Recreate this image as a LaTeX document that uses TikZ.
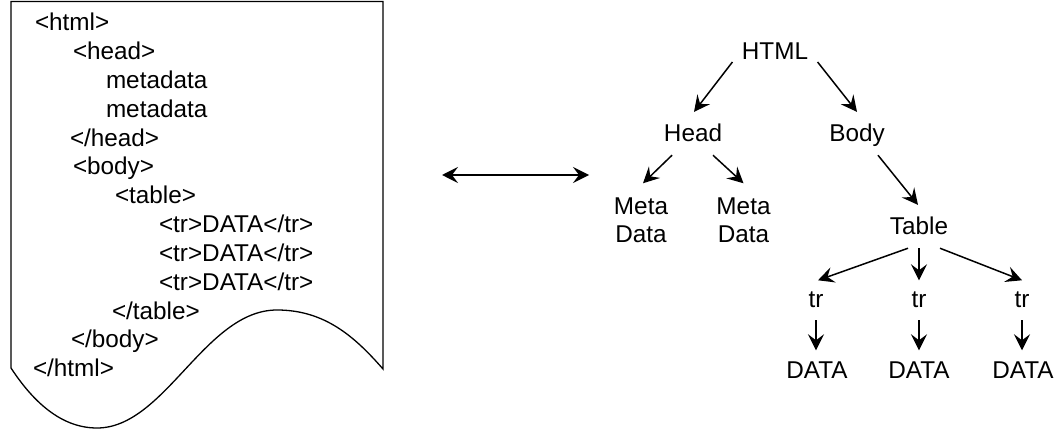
\documentclass[tikz,border=0pt]{standalone}
\usepackage{fontspec}
\setmainfont{Liberation Sans}
\usetikzlibrary{arrows.meta}
\tikzset{
  txt/.style={inner sep=0pt, outer sep=0pt, font=\fontsize{24.3}{28.8}\selectfont},
  code/.style={txt, anchor=base west},
  tnode/.style={txt, anchor=base},
  arr/.style={draw, line width=1.5pt, -{Stealth[length=16pt,width=16pt,inset=6pt]}},
  darr/.style={draw, line width=1.4pt, {Stealth[length=16pt,width=16pt,inset=6pt]}-{Stealth[length=16pt,width=16pt,inset=6pt]}},
  doc/.style={draw, line width=1.3pt}
}
\begin{document}
\begin{tikzpicture}[x=1pt,y=-1pt]
\useasboundingbox (0,0) rectangle (1062,430);
% document shape
\draw[doc] (11,368) -- (11,1.5) -- (383,1.5) -- (383,369)
  .. controls (355,337) and (325,310) .. (277,310)
  .. controls (205,310) and (165,428) .. (97,428)
  .. controls (60,428) and (32,400) .. (11,368) -- cycle;
% code text
\node[code] (c1) at (35,31) {<html>};
\node[code] (c2) at (73,59.8) {<head>};
\node[code] (c3) at (106,88.6) {metadata};
\node[code] (c4) at (106,117.4) {metadata};
\node[code] (c5) at (70,146.2) {</head>};
\node[code] (c6) at (73,175) {<body>};
\node[code] (c7) at (115,203.8) {<table>};
\node[code] (c8) at (159,232.6) {<tr>DATA</tr>};
\node[code] (c9) at (159,261.4) {<tr>DATA</tr>};
\node[code] (c10) at (159,290.2) {<tr>DATA</tr>};
\node[code] (c11) at (112,319) {</table>};
\node[code] (c12) at (71,347.8) {</body>};
\node[code] (c13) at (33,376.6) {</html>};
% double arrow
\coordinate (la) at (442,175);
\coordinate (ra) at (589,175);
\draw[darr] (la) -- (ra);
% tree
\node[tnode] (html) at (775,60) {HTML};
\node[tnode] (head) at (693,142) {Head};
\node[tnode] (body) at (857,142) {Body};
\node[tnode] (meta1) at (641,215) {Meta};
\node[tnode] (data1) at (641,243) {Data};
\node[tnode] (meta2) at (743.5,215) {Meta};
\node[tnode] (data2) at (743.5,243) {Data};
\node[tnode] (table) at (919,235) {Table};
\node[tnode] (tr1) at (816,307) {tr};
\node[tnode] (tr2) at (919,307) {tr};
\node[tnode] (tr3) at (1022,307) {tr};
\node[tnode] (d1) at (817,378) {DATA};
\node[tnode] (d2) at (919,378) {DATA};
\node[tnode] (d3) at (1023,378) {DATA};
\draw[arr] ([xshift=-9.5pt,yshift=-2pt]html.south west) -- ([xshift=1pt,yshift=12.5pt]head.north);
\draw[arr] ([xshift=9.5pt,yshift=-2pt]html.south east) -- ([yshift=12.5pt]body.north);
\draw[arr] ([xshift=-21pt,yshift=-13pt]head.south) -- ([xshift=2pt,yshift=15pt]meta1.north);
\draw[arr] ([xshift=20pt,yshift=-13pt]head.south) -- ([yshift=15pt]meta2.north);
\draw[arr] ([xshift=21pt,yshift=-13pt]head.south -| body.south) -- ([xshift=-1pt,yshift=12.5pt]table.north);
\draw[arr] ([xshift=-11pt,yshift=-13pt]table.south) -- ([xshift=2pt,yshift=11pt]tr1.north);
\draw[arr] ([yshift=-13pt]table.south) -- ([yshift=11pt]tr2.north);
\draw[arr] ([xshift=21pt,yshift=-13pt]table.south) -- ([yshift=11pt]tr3.north);
\draw[arr] ([yshift=-13pt]tr1.south) -- ([yshift=11pt]tr1.south |- d1.north);
\draw[arr] ([yshift=-13pt]tr2.south) -- ([yshift=11pt]tr2.south |- d2.north);
\draw[arr] ([yshift=-13pt]tr3.south) -- ([yshift=11pt]tr3.south |- d3.north);
\end{tikzpicture}
\end{document}
